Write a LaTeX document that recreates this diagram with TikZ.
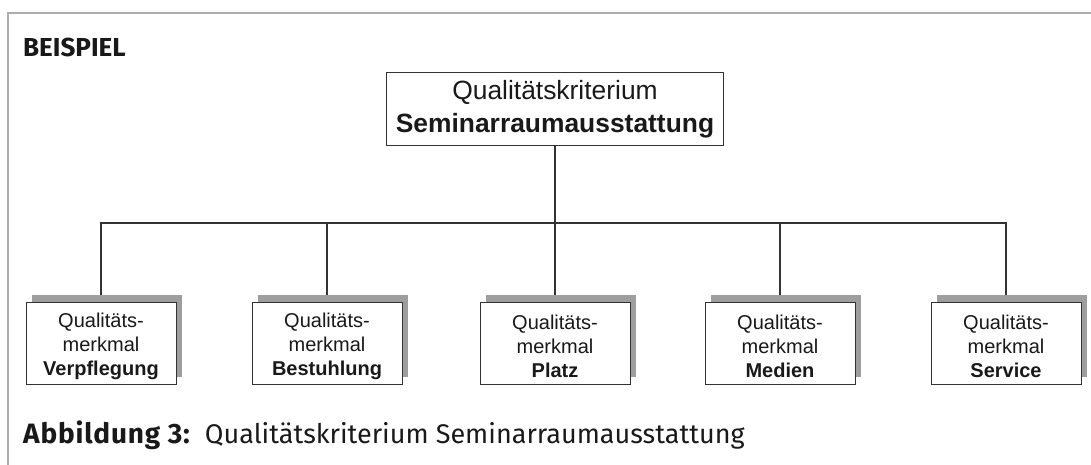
\documentclass[tikz,border=0pt]{standalone}
\usepackage{fontspec}
\setmainfont{Liberation Sans}
\newfontfamily\capfont{Fira Sans}
\newfontfamily\capboldfont[LetterSpace=3.0]{Fira Sans Bold}
\newcommand{\lowerstrut}{\rule{0pt}{20.6pt}}
\usetikzlibrary{shadows,backgrounds}
\begin{document}
\begin{tikzpicture}[x=1pt,y=-1pt,
  framestyle/.style={draw=black!32,line width=1.3pt},
  link/.style={draw=black!80,line width=1.1pt},
  topbox/.style={draw=black!80,line width=1pt,fill=white,minimum width=337pt,minimum height=73pt,
    align=center,inner sep=0pt,font=\fontsize{26.4}{33}\selectfont,text=black!90},
  merkbox/.style={draw=black!80,line width=1pt,fill=white,minimum width=150pt,minimum height=82pt,
    align=center,inner sep=0pt,font=\fontsize{20}{24}\selectfont,text=black!90,
    copy shadow={shadow xshift=6pt,shadow yshift=7pt,fill=black!38,draw=none}},
  title/.style={anchor=base west,inner sep=0pt,font=\capfont\bfseries\fontsize{26}{30}\selectfont,text=black!90},
  caption/.style={anchor=base west,inner sep=0pt,font=\capfont\fontsize{27}{30}\selectfont,text=black!90}
]
\useasboundingbox (0,0) rectangle (1091,465);
\draw[framestyle] (8,465) -- (8,13) -- (1091,13);
\node[title] (bsp) at (23,57) {BEISPIEL};
\node[topbox] (top) at (555,109.5) {Qualitätskriterium\\\textbf{Seminarraumausstattung}};
\node[merkbox] (b1) at (101,343) {\lowerstrut Qualitäts-\\merkmal\\\textbf{Verpflegung}};
\node[merkbox] (b2) at (327,343) {\lowerstrut Qualitäts-\\merkmal\\\textbf{Bestuhlung}};
\node[merkbox] (b3) at (555,343) {\lowerstrut Qualitäts-\\merkmal\\\textbf{Platz}};
\node[merkbox] (b4) at (780,343) {\lowerstrut Qualitäts-\\merkmal\\\textbf{Medien}};
\node[merkbox] (b5) at (1006,343) {\lowerstrut Qualitäts-\\merkmal\\\textbf{Service}};
\coordinate (hub) at (top.south |- 0,223);
\begin{pgfonlayer}{background}
\draw[link] (top.south) -- (hub);
\foreach \b in {b1,b2,b3,b4,b5} {\draw[link] (hub) -| (\b.north);}
\end{pgfonlayer}
\node[caption] (cap) at (23,443) {{\capboldfont\fontsize{28}{30}\selectfont Abbildung 3:}\hspace{15pt}Qualitätskriterium Seminarraumausstattung};
\end{tikzpicture}
\end{document}
